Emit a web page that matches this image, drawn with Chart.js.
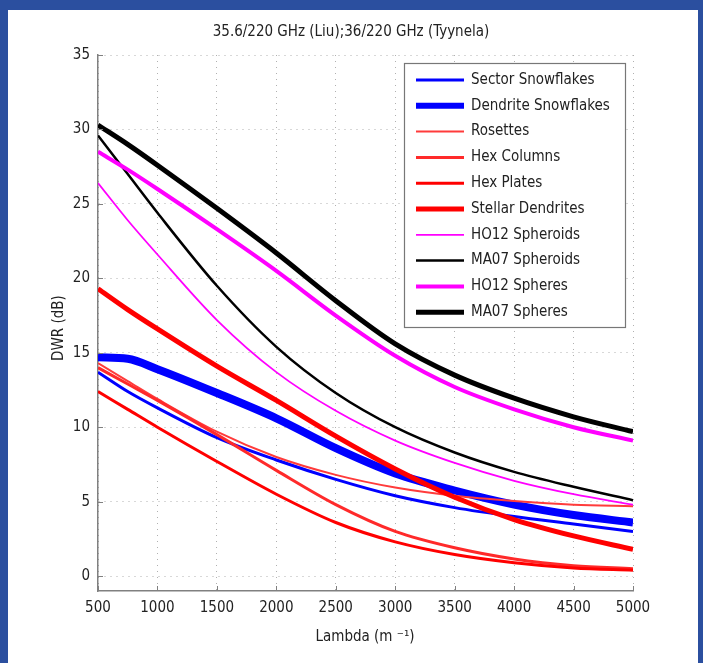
<!DOCTYPE html>
<html>
<head>
<meta charset="utf-8">
<script src="https://cdn.jsdelivr.net/npm/chart.js@4.4.1/dist/chart.umd.min.js"></script>
<style>
    html, body { margin: 0; padding: 0; background: #2b4f9f; width: 703px; height: 663px; overflow: hidden; }
    #panel { position: absolute; left: 8px; top: 10px; width: 690px; height: 653px; background: #fff; }
</style>
</head>
<body>
<div id="panel"><canvas id="dwrChart" width="690" height="653"></canvas></div>
<script>
// Wavelength grid (m^-1)
const lambda = [500, 750, 1000, 1500, 2000, 2500, 3000, 3500, 4000, 4500, 5000];

// DWR (dB) per particle type
const sectorSnowflakes   = [13.7, 12.4, 11.3, 9.3, 7.8, 6.5, 5.4, 4.6, 4.0, 3.5, 3.0];
const dendriteSnowflakes = [14.7, 14.6, 13.9, 12.3, 10.6, 8.6, 6.9, 5.75, 4.8, 4.1, 3.6];
const rosettes           = [14.3, 13.1, 11.9, 9.7, 8.0, 6.8, 5.95, 5.4, 5.05, 4.8, 4.7];
const hexColumns         = [14.0, 12.9, 11.8, 9.5, 7.1, 4.8, 3.0, 1.9, 1.15, 0.7, 0.5];
const hexPlates          = [12.4, 11.2, 10.0, 7.7, 5.5, 3.6, 2.3, 1.45, 0.9, 0.55, 0.4];
const stellarDendrites   = [19.3, 17.9, 16.6, 14.1, 11.8, 9.4, 7.2, 5.3, 3.8, 2.7, 1.8];
const ho12Spheroids      = [26.4, 23.9, 21.6, 17.2, 13.7, 11.1, 9.1, 7.6, 6.4, 5.5, 4.8];
const ma07Spheroids      = [29.6, 27.0, 24.4, 19.5, 15.4, 12.3, 10.0, 8.3, 7.0, 6.0, 5.1];
const ho12Spheres        = [28.5, 27.3, 26.0, 23.3, 20.5, 17.5, 14.8, 12.7, 11.2, 10.0, 9.1];
const ma07Spheres        = [30.3, 29.0, 27.6, 24.7, 21.7, 18.5, 15.6, 13.5, 11.95, 10.7, 9.7];

const xTicks = [500, 1000, 1500, 2000, 2500, 3000, 3500, 4000, 4500, 5000];
const yTicks = [0, 5, 10, 15, 20, 25, 30, 35];

const FONT = '"Liberation Sans Narrow", "DejaVu Sans Condensed", sans-serif';

const series = [
    { label: 'Sector Snowflakes', values: sectorSnowflakes, color: '#0000ff', width: 3 },
    { label: 'Dendrite Snowflakes', values: dendriteSnowflakes, color: '#0000ff', width: 8 },
    { label: 'Rosettes', values: rosettes, color: '#ff3b3b', width: 2 },
    { label: 'Hex Columns', values: hexColumns, color: '#ff2a2a', width: 3 },
    { label: 'Hex Plates', values: hexPlates, color: '#ff0000', width: 3 },
    { label: 'Stellar Dendrites', values: stellarDendrites, color: '#ff0000', width: 5 },
    { label: 'HO12 Spheroids', values: ho12Spheroids, color: '#ff00ff', width: 1.8 },
    { label: 'MA07 Spheroids', values: ma07Spheroids, color: '#000000', width: 2.5 },
    { label: 'HO12 Spheres', values: ho12Spheres, color: '#ff00ff', width: 4 },
    { label: 'MA07 Spheres', values: ma07Spheres, color: '#000000', width: 5 }
];

// Titles, inward tick marks and the boxed legend (matlab style)
const decorations = {
    id: 'decorations',
    afterDraw(chart) {
        const ctx = chart.ctx;
        const area = chart.chartArea;
        const xs = chart.scales.x, ys = chart.scales.y;
        ctx.save();

        // inward ticks
        ctx.strokeStyle = '#808080';
        ctx.lineWidth = 1;
        yTicks.forEach(v => {
            const y = Math.round(ys.getPixelForValue(v)) + 0.5;
            ctx.beginPath(); ctx.moveTo(area.left, y); ctx.lineTo(area.left + 5, y); ctx.stroke();
        });
        xTicks.forEach(v => {
            const x = Math.round(xs.getPixelForValue(v)) + 0.5;
            ctx.beginPath(); ctx.moveTo(x, area.bottom); ctx.lineTo(x, area.bottom - 5); ctx.stroke();
        });

        ctx.fillStyle = '#222';
        ctx.textAlign = 'center';
        ctx.textBaseline = 'middle';

        // title
        ctx.font = '15px ' + FONT;
        ctx.fillText('35.6/220 GHz (Liu);36/220 GHz (Tyynela)', 343, 22);

        // x label
        ctx.fillText('Lambda (m \u207B\u00B9)', 357, 627);

        // y label
        ctx.save();
        ctx.translate(51, 318);
        ctx.rotate(-Math.PI / 2);
        ctx.fillText('DWR (dB)', 0, 0);
        ctx.restore();

        // legend
        const bx = 396, by = 53, bw = 221, bh = 264;
        ctx.fillStyle = '#fff';
        ctx.fillRect(bx, by, bw, bh);
        ctx.strokeStyle = '#777';
        ctx.lineWidth = 1.2;
        ctx.strokeRect(bx + 0.5, by + 0.5, bw, bh);
        ctx.textAlign = 'left';
        chart.data.datasets.forEach((ds, i) => {
            const y = by + 17 + i * 25.8;
            ctx.strokeStyle = ds.borderColor;
            ctx.lineWidth = Math.min(ds.borderWidth, 6);
            ctx.beginPath(); ctx.moveTo(408, y); ctx.lineTo(456, y); ctx.stroke();
            ctx.fillStyle = '#222';
            ctx.fillText(ds.label, 463, y);
        });
        ctx.restore();
    }
};

const ctx = document.getElementById('dwrChart').getContext('2d');

new Chart(ctx, {
    type: 'line',
    data: {
        datasets: series.map((s, i) => ({
            label: s.label,
            data: lambda.map((x, j) => ({ x: x, y: s.values[j] })),
            borderColor: s.color,
            borderWidth: s.width,
            pointRadius: 0,
            fill: false,
            cubicInterpolationMode: 'monotone',
            order: series.length - i
        }))
    },
    options: {
        responsive: false,
        animation: false,
        layout: { padding: { left: 0, top: 45, right: 65, bottom: 0 } },
        plugins: {
            legend: { display: false },
            title: { display: false },
            tooltip: { enabled: false }
        },
        scales: {
            x: {
                type: 'linear',
                min: 500,
                max: 5000,
                afterBuildTicks: scale => { scale.ticks = xTicks.map(v => ({ value: v })); },
                afterFit: scale => { scale.height = 72; },
                ticks: { color: '#222', font: { family: FONT, size: 15 }, padding: 8, maxRotation: 0, callback: v => String(v) },
                grid: { color: '#b0b0b0', lineWidth: 1, drawTicks: false },
                border: { display: true, color: '#808080', width: 1.5, dash: [1, 5] }
            },
            y: {
                min: -1,
                max: 35,
                afterBuildTicks: scale => { scale.ticks = yTicks.map(v => ({ value: v })); },
                afterFit: scale => { scale.width = 90; },
                ticks: { color: '#222', font: { family: FONT, size: 15 }, padding: 8, callback: v => String(v) },
                grid: { color: '#b0b0b0', lineWidth: 1, drawTicks: false },
                border: { display: true, color: '#808080', width: 1.5, dash: [1, 5] }
            }
        }
    },
    plugins: [decorations]
});
</script>
</body>
</html>
